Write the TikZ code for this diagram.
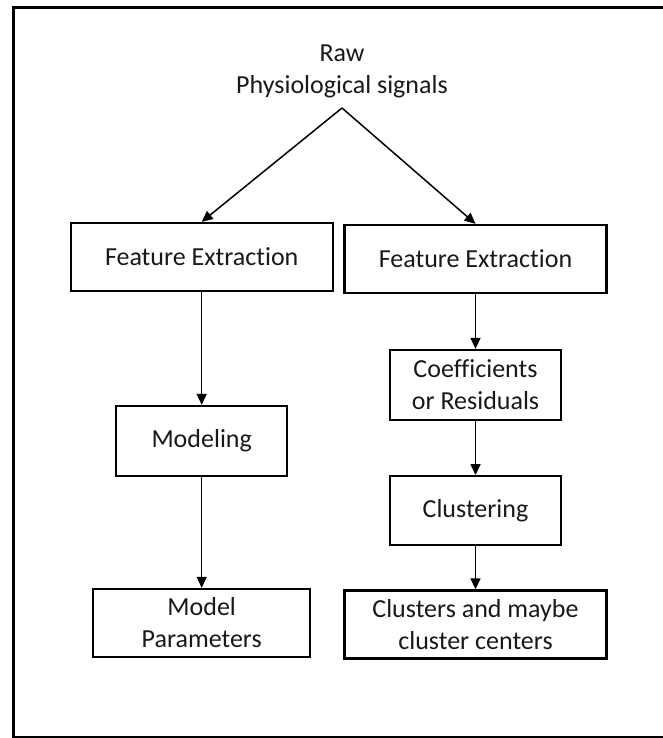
\documentclass[tikz,border=0pt]{standalone}
\usepackage{fontspec}
\setmainfont{Carlito}[Ligatures=NoCommon]
\usetikzlibrary{arrows.meta}
\begin{document}
\begin{tikzpicture}[x=1pt,y=-1pt,
  txt/.style={align=center, inner sep=0pt, text=black!90, font=\fontsize{26}{32}\selectfont},
  stage/.style={txt, draw=black, line width=2.3pt, minimum width=#1, minimum height=68pt},
  stage/.default=262pt,
  flow/.style={-{Triangle[length=11pt,width=10pt]}, line width=1.5pt}]
\useasboundingbox (0,0) rectangle (663,738);
% outer frame (right side lies past the page edge)
\draw[line width=2.6pt] (680,7.5) -- (13.5,7.5) -- (13.5,737.5) -- (680,737.5);

% source
\node[txt] (raw) at (342,71) {Raw\\Physiological signals};
\coordinate (apex) at (342,108);

% left branch
\node[stage] (fe1) at (201.7,257) {Feature Extraction};
\node[stage=171pt, minimum height=70pt] (model) at (201.7,441) {Modeling};
\node[stage=217pt] (params) at (201.7,623) {Model\\Parameters};

% right branch
\node[stage] (fe2) at (475.5,259) {Feature Extraction};
\node[stage=171pt, minimum height=70pt] (coef) at (475.5,385) {Coefficients\\or Residuals};
\node[stage=171pt, minimum height=69pt] (clust) at (475.5,510.7) {Clustering};
\node[stage] (clusters) at (475.5,624.5) {Clusters and maybe\\cluster centers};

% connectors
\draw[flow] (apex) -- (fe1.north);
\draw[flow] (apex) -- (fe2.north);
\draw[flow] (fe1.south) -- (model.north);
\draw[flow] (model.south) -- (params.north);
\draw[flow] (fe2.south) -- (coef.north);
\draw[flow] (coef.south) -- (clust.north);
\draw[flow] (clust.south) -- (clusters.north);
\end{tikzpicture}
\end{document}
